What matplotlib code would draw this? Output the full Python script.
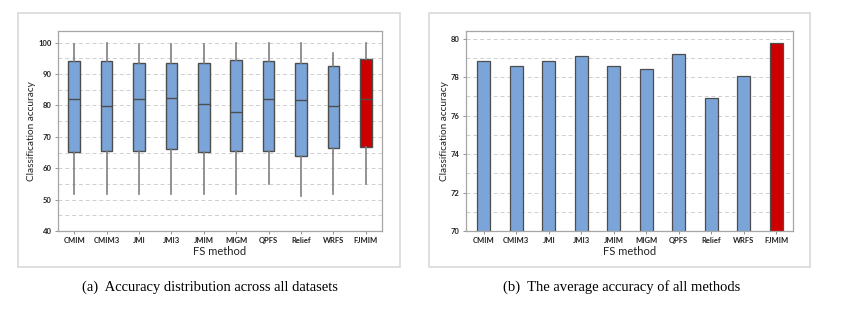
import matplotlib.pyplot as plt
from matplotlib.patches import Rectangle
from matplotlib.ticker import MultipleLocator

methods = ['CMIM', 'CMIM3', 'JMI', 'JMI3', 'JMIM', 'MIGM', 'QPFS', 'Relief', 'WRFS', 'FJMIM']

# box stats
whi_hi = [99.5, 100.0, 99.5, 99.5, 99.5, 100.0, 100.0, 100.0, 96.8, 100.0]
q3 = [94.2, 94.2, 93.5, 93.5, 93.5, 94.4, 94.0, 93.5, 92.5, 94.7]
med = [81.9, 79.9, 81.9, 82.3, 80.6, 77.8, 81.9, 81.7, 79.9, 82.0]
q1 = [65.3, 65.5, 65.5, 66.1, 65.3, 65.6, 65.5, 63.8, 66.4, 66.9]
whi_lo = [51.7, 51.7, 51.7, 51.7, 51.7, 51.7, 54.9, 51.0, 51.7, 54.9]

# average accuracy, panel (b)
avg_acc = [78.84, 78.57, 78.84, 79.08, 78.57, 78.44, 79.20, 76.90, 78.05, 79.80]

W, H = 858, 319
blue = '#7ba5d9'
red = '#cc0000'
edge = '#4d4d4d'
colors = [blue] * 9 + [red]

fig = plt.figure(figsize=(W / 100, H / 100), dpi=100)


def px_axes(x0, y0, x1, y1):
    return fig.add_axes([x0 / W, 1 - y1 / H, (x1 - x0) / W, (y1 - y0) / H])


def frame(x0, y0, x1, y1):
    fig.patches.append(Rectangle((x0 / W, 1 - y1 / H), (x1 - x0) / W, (y1 - y0) / H,
                                 transform=fig.transFigure, fill=False,
                                 edgecolor='#d9d9d9', linewidth=1.2))


def style(ax, major, minor):
    ax.yaxis.set_major_locator(MultipleLocator(major))
    ax.yaxis.set_minor_locator(MultipleLocator(minor))
    ax.grid(True, axis='y', which='both', linestyle=(0, (4, 3)), color='#cfcfcf', linewidth=0.7)
    ax.set_axisbelow(True)
    for s in ax.spines.values():
        s.set_color('#a6a6a6')
        s.set_linewidth(0.9)
    ax.tick_params(axis='both', which='major', length=2.5, width=0.6, color='#808080', pad=2,
                   labelcolor='#222222')
    ax.tick_params(axis='y', which='minor', length=0)
    ax.set_xticks(range(len(methods)))
    ax.set_xticklabels(methods)
    for lab in ax.get_xticklabels() + ax.get_yticklabels():
        lab.set_family('Lato')
        lab.set_fontweight('bold')
        lab.set_fontsize(5.5)
    ax.set_xlabel('FS method', family='Lato', fontsize=8, labelpad=1.5, color='#222222')
    ax.set_ylabel('Classification accuracy', family='Lato', fontsize=7.2, labelpad=1.5,
                  color='#222222')


frame(18, 13, 400, 267)
frame(429, 13, 810, 267)

# (a) box plot
ax1 = px_axes(58, 31, 382, 231)
stats = [dict(whishi=whi_hi[i], q3=q3[i], med=med[i], q1=q1[i], whislo=whi_lo[i], fliers=[])
         for i in range(len(methods))]
bp = ax1.bxp(stats, positions=range(len(methods)), widths=0.36, patch_artist=True,
             showcaps=False,
             boxprops=dict(edgecolor=edge, linewidth=1.0),
             medianprops=dict(color=edge, linewidth=1.0),
             whiskerprops=dict(color='#7f7f7f', linewidth=1.2))
for patch, c in zip(bp['boxes'], colors):
    patch.set_facecolor(c)
ax1.set_xlim(-0.5, 9.5)
ax1.set_ylim(40, 103.7)
style(ax1, 10, 5)

# (b) bar chart
ax2 = px_axes(466, 31, 793, 231)
ax2.bar(range(len(methods)), avg_acc, width=0.4, color=colors, edgecolor=edge, linewidth=0.9)
ax2.set_xlim(-0.55, 9.52)
ax2.set_ylim(70, 80.4)
style(ax2, 2, 1)

fig.text(210 / W, 1 - 287 / H, '(a)  Accuracy distribution across all datasets',
         family='Liberation Serif', fontsize=10.5, ha='center', va='center')
fig.text(622 / W, 1 - 287 / H, '(b)  The average accuracy of all methods',
         family='Liberation Serif', fontsize=10.5, ha='center', va='center')

fig.savefig('out.png', dpi=100)
